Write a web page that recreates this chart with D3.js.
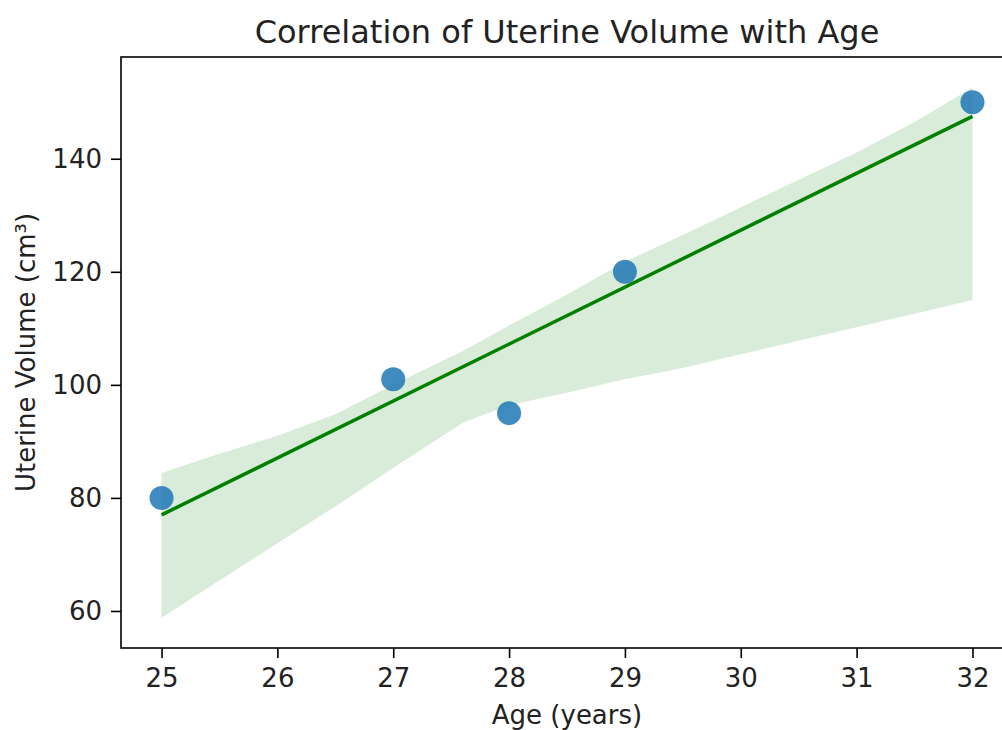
<!DOCTYPE html>
<html>
<head>
<meta charset="utf-8">
<script src="https://cdn.jsdelivr.net/npm/d3@7"></script>
<style>
  body { margin: 0; background: #fff; }
  text { font-family: "DejaVu Sans", sans-serif; fill: #222; }
</style>
</head>
<body>
<div id="chart"></div>
<script>
// data
var ages = [25, 27, 28, 29, 32];
var volumes = [80, 101, 95, 120, 150];

// fitted line end points
var fitX = [25, 32];
var fitY = [77, 147.5];

// confidence band (estimated)
var bandX =     [25,   25.5, 26,   26.5, 27,   27.6, 28,    28.5,  29,    29.5,  30,    30.5,  31,    31.5,  32];
var bandUpper = [84.4, 87.8, 91.0, 94.8, 100,  106,  110.5, 116,   121.8, 126.5, 131.4, 136.3, 141.1, 146.5, 152.6];
var bandLower = [58.8, 65.4, 72.0, 78.5, 85.3, 93.3, 96.4,  98.6,  101,   103,   105.4, 107.8, 110.2, 112.6, 115];

var xTicks = [25, 26, 27, 28, 29, 30, 31, 32];
var yTicks = [60, 80, 100, 120, 140];

var svgWidth = 1002;
var svgHeight = 730;

var margin = { top: 57, right: -11, bottom: 82, left: 121 };
var width = svgWidth - margin.left - margin.right;
var height = svgHeight - margin.top - margin.bottom;

var svg = d3.select("#chart")
  .append("svg")
  .attr("width", svgWidth)
  .attr("height", svgHeight);

var chartGroup = svg.append("g")
  .attr("transform", `translate(${margin.left}, ${margin.top})`);

var xScale = d3.scaleLinear()
  .domain([24.65, 32.35])
  .range([0, width]);

var yScale = d3.scaleLinear()
  .domain([53.45, 158])
  .range([height, 0]);

// band
var band = bandX.map((x, i) => ({ x: x, lo: bandLower[i], hi: bandUpper[i] }));
chartGroup.append("path")
  .datum(band)
  .attr("d", d3.area()
    .x(d => xScale(d.x))
    .y0(d => yScale(d.lo))
    .y1(d => yScale(d.hi)))
  .attr("fill", "green")
  .attr("fill-opacity", 0.15);

// points
chartGroup.selectAll("circle")
  .data(ages)
  .enter()
  .append("circle")
  .attr("cx", d => xScale(d))
  .attr("cy", (d, i) => yScale(volumes[i]))
  .attr("r", 12)
  .attr("fill", "#1f77b4")
  .attr("opacity", 0.85);

// regression line
chartGroup.append("path")
  .datum(fitX.map((x, i) => [x, fitY[i]]))
  .attr("d", d3.line().x(d => xScale(d[0])).y(d => yScale(d[1])))
  .attr("fill", "none")
  .attr("stroke", "green")
  .attr("stroke-width", 3.5);

// axes
var bottomAxis = d3.axisBottom(xScale).tickValues(xTicks).tickSize(10).tickPadding(11);
var leftAxis = d3.axisLeft(yScale).tickValues(yTicks).tickSize(10).tickPadding(9);

var gx = chartGroup.append("g")
  .attr("transform", `translate(0, ${height})`)
  .call(bottomAxis);
var gy = chartGroup.append("g")
  .call(leftAxis);

[gx, gy].forEach(function(g) {
  g.select(".domain").remove();
  g.selectAll(".tick line").attr("stroke", "#000").attr("stroke-width", 1.6);
  g.selectAll(".tick text").attr("font-size", 26).attr("fill", "#222")
    .style("font-family", "DejaVu Sans, sans-serif");
});

// spines
chartGroup.append("rect")
  .attr("width", width)
  .attr("height", height)
  .attr("fill", "none")
  .attr("stroke", "#000")
  .attr("stroke-width", 1.6);

// labels
svg.append("text")
  .attr("x", margin.left + width / 2)
  .attr("y", 43)
  .attr("text-anchor", "middle")
  .attr("font-size", 32)
  .text("Correlation of Uterine Volume with Age");

svg.append("text")
  .attr("x", margin.left + width / 2)
  .attr("y", 724)
  .attr("text-anchor", "middle")
  .attr("font-size", 26)
  .text("Age (years)");

svg.append("text")
  .attr("transform", `translate(35, ${margin.top + height / 2}) rotate(-90)`)
  .attr("text-anchor", "middle")
  .attr("font-size", 26)
  .text("Uterine Volume (cm³)");
</script>
</body>
</html>
